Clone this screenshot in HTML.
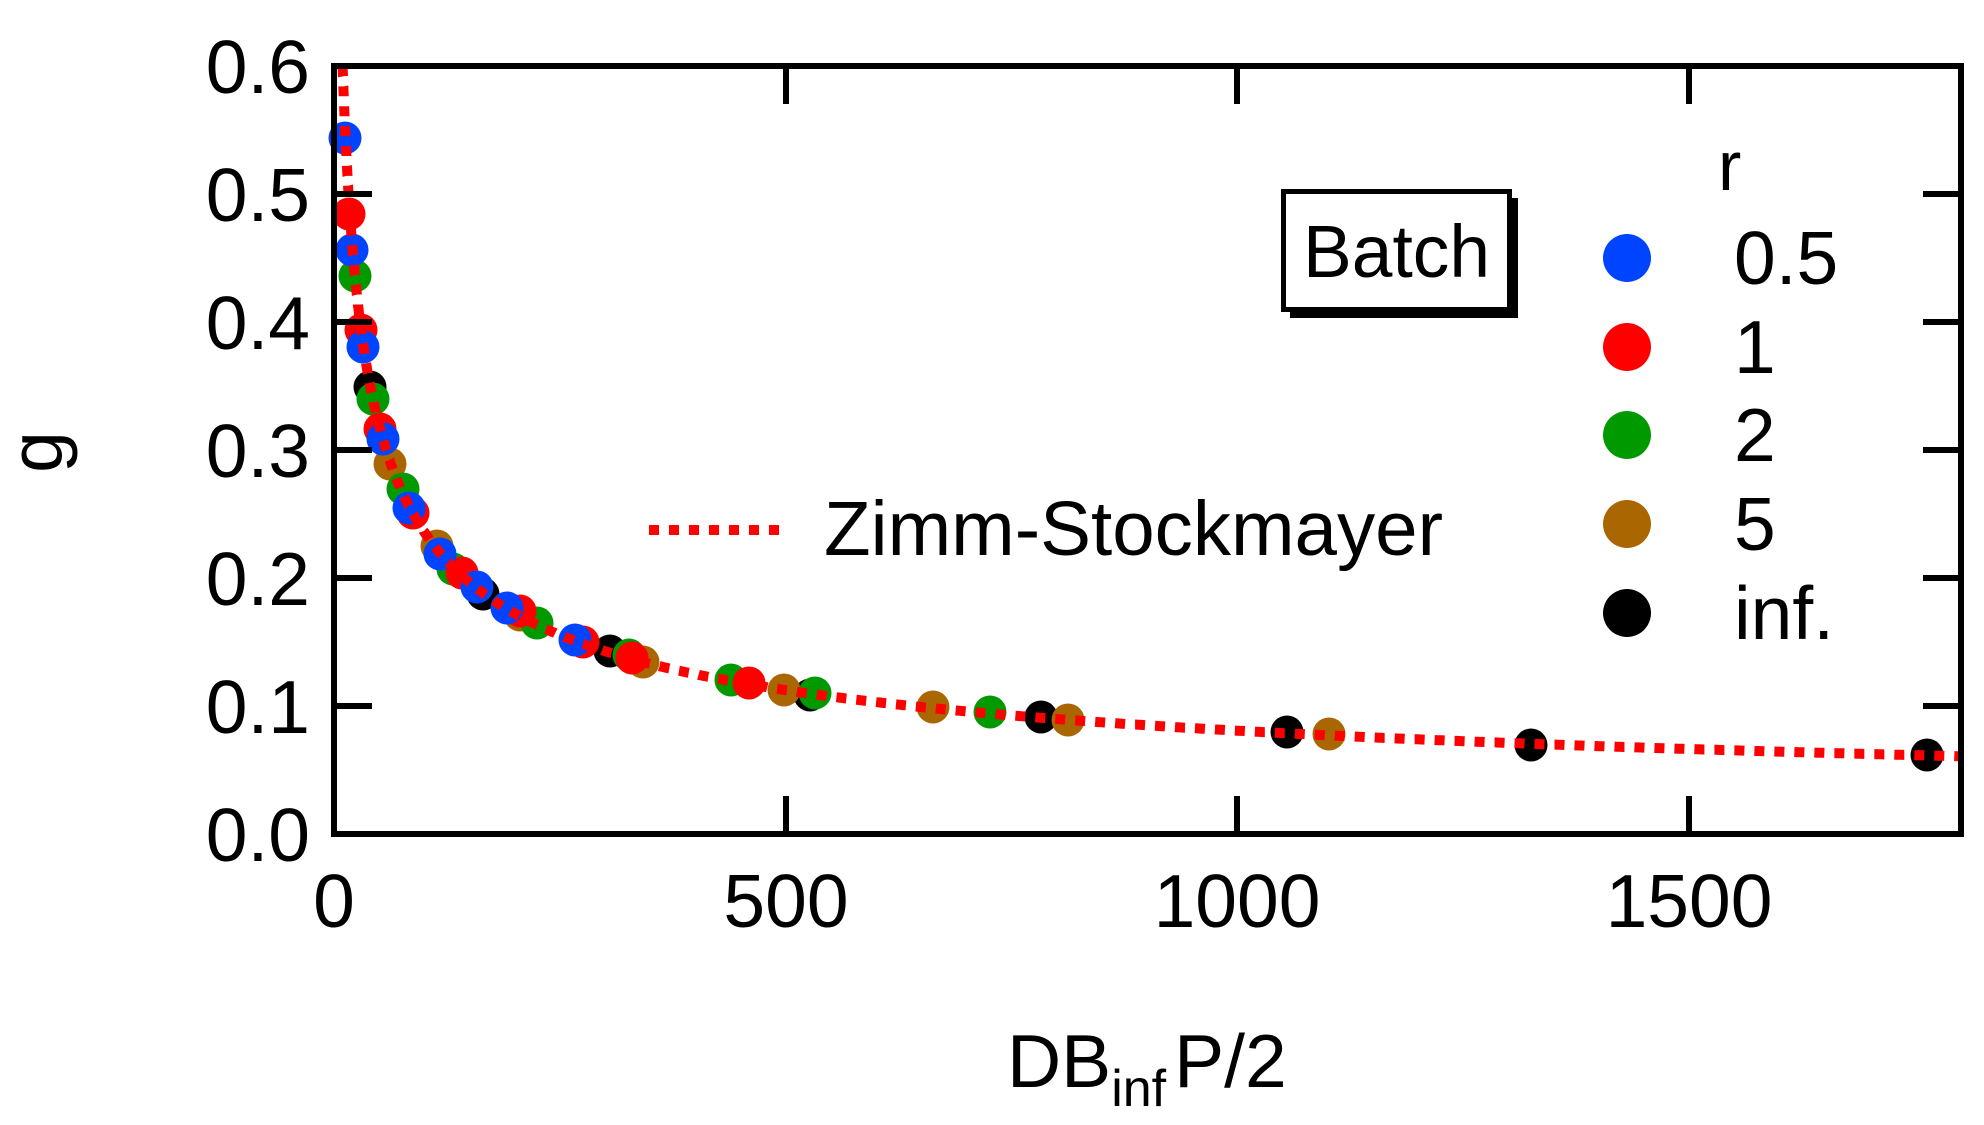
<!DOCTYPE html>
<html><head><meta charset="utf-8"><style>
html,body{margin:0;padding:0;background:#fff;}
svg{display:block;}
text{font-family:"Liberation Sans",Arial,sans-serif;fill:#000;}
</style></head><body>
<svg id="s" width="1984" height="1125" viewBox="0 0 1984 1125" xmlns="http://www.w3.org/2000/svg">
<rect width="1984" height="1125" fill="#fff"/>
<g id="pts"></g>
<path id="curve" fill="none" stroke="#ff0000" stroke-width="10" stroke-dasharray="10 10"/>
<rect x="334" y="66" width="1627" height="768" fill="none" stroke="#000" stroke-width="6"/>
<g stroke="#000" stroke-width="6">
<line x1="334" y1="194" x2="372" y2="194"/><line x1="334" y1="322" x2="372" y2="322"/>
<line x1="334" y1="450" x2="372" y2="450"/><line x1="334" y1="578" x2="372" y2="578"/>
<line x1="334" y1="706" x2="372" y2="706"/>
<line x1="1961" y1="194" x2="1923" y2="194"/><line x1="1961" y1="322" x2="1923" y2="322"/>
<line x1="1961" y1="450" x2="1923" y2="450"/><line x1="1961" y1="578" x2="1923" y2="578"/>
<line x1="1961" y1="706" x2="1923" y2="706"/>
<line x1="786" y1="834" x2="786" y2="796"/><line x1="1237" y1="834" x2="1237" y2="796"/><line x1="1689" y1="834" x2="1689" y2="796"/>
<line x1="786" y1="66" x2="786" y2="104"/><line x1="1237" y1="66" x2="1237" y2="104"/><line x1="1689" y1="66" x2="1689" y2="104"/>
</g>
<g font-size="75" text-anchor="end">
<text x="310" y="93">0.6</text><text x="310" y="221">0.5</text><text x="310" y="349">0.4</text>
<text x="310" y="477">0.3</text><text x="310" y="605">0.2</text><text x="310" y="733">0.1</text>
<text x="310" y="861">0.0</text>
</g>
<g font-size="75" text-anchor="middle">
<text x="334" y="927">0</text><text x="786" y="927">500</text><text x="1237" y="927">1000</text><text x="1689" y="927">1500</text>
</g>
<text x="1007" y="1087" font-size="75">DB<tspan font-size="52" dy="19">inf</tspan><tspan dy="-19" dx="8">P/2</tspan></text>
<text transform="translate(62,452) rotate(-90)" font-size="75" text-anchor="middle">g</text>
<rect x="1290" y="198" width="228" height="120" fill="#000"/>
<rect x="1283.5" y="191.5" width="226" height="118" fill="#fff" stroke="#000" stroke-width="5"/>
<text x="1303" y="277" font-size="74" textLength="187" lengthAdjust="spacingAndGlyphs">Batch</text>
<line x1="649" y1="530" x2="789" y2="530" stroke="#ff0000" stroke-width="10" stroke-dasharray="10 10"/>
<text x="824" y="555" font-size="77" textLength="619" lengthAdjust="spacingAndGlyphs">Zimm-Stockmayer</text>
<text x="1718" y="190" font-size="70">r</text>
<ellipse cx="1627" cy="258" rx="24" ry="24" fill="#0044ff"/>
<ellipse cx="1627" cy="347" rx="24" ry="24" fill="#ff0000"/>
<ellipse cx="1627" cy="435" rx="24" ry="24" fill="#009900"/>
<ellipse cx="1627" cy="524" rx="24" ry="24" fill="#aa6600"/>
<ellipse cx="1627" cy="613" rx="24" ry="24" fill="#000"/>
<g font-size="75">
<text x="1734" y="284">0.5</text><text x="1734" y="373">1</text><text x="1734" y="461">2</text>
<text x="1734" y="550">5</text><text x="1734" y="639">inf.</text>
</g>
</svg>
<script>
var C={k:"#000",b:"#0044ff",r:"#ff0000",g:"#009900",o:"#aa6600"};
var P=[
["k",370,387],["k",483,594],["k",610,651],["k",810,695],["k",1041,717],["k",1287,732],["k",1531,745],["k",1927,755],
["o",390,464],["o",437,546],["o",520,615],["o",643,662],["o",784,690],["o",933,707],["o",1068,720],["o",1329,734],
["g",355,276],["g",373,399],["g",403,489],["g",453,569],["g",537,623],["g",629,655],["g",731,680],["g",815,693],["g",990,712],
["r",349,214],["r",361,330],["r",380,429],["r",413,513],["r",462,573],["r",520,611],["r",583,642],["r",632,658],["r",749,683],
["b",345,138],["b",352,250],["b",363,347],["b",383,439],["b",409,508],["b",440,554],["b",477,587],["b",507,608],["b",575,640]
];
var g=document.getElementById("pts"),h="";
P.forEach(function(p){h+='<circle cx="'+p[1]+'" cy="'+p[2]+'" r="16.5" fill="'+C[p[0]]+'"/>';});
g.innerHTML=h;
function gz(n){return Math.pow(Math.sqrt(1+n/7)+4*n/(9*Math.PI),-0.5);}
var d="",first=true;
for(var i=0;i<=4000;i++){
 var n=Math.exp(i*Math.log(1801)/4000);
 var v=gz(n); if(v>0.6) continue;
 var x=334.5+n*0.903, y=834-v*1280;
 d+=(first?"M":"L")+x.toFixed(1)+" "+y.toFixed(1)+" "; first=false;
}
document.getElementById("curve").setAttribute("d",d);
</script>
</body></html>
